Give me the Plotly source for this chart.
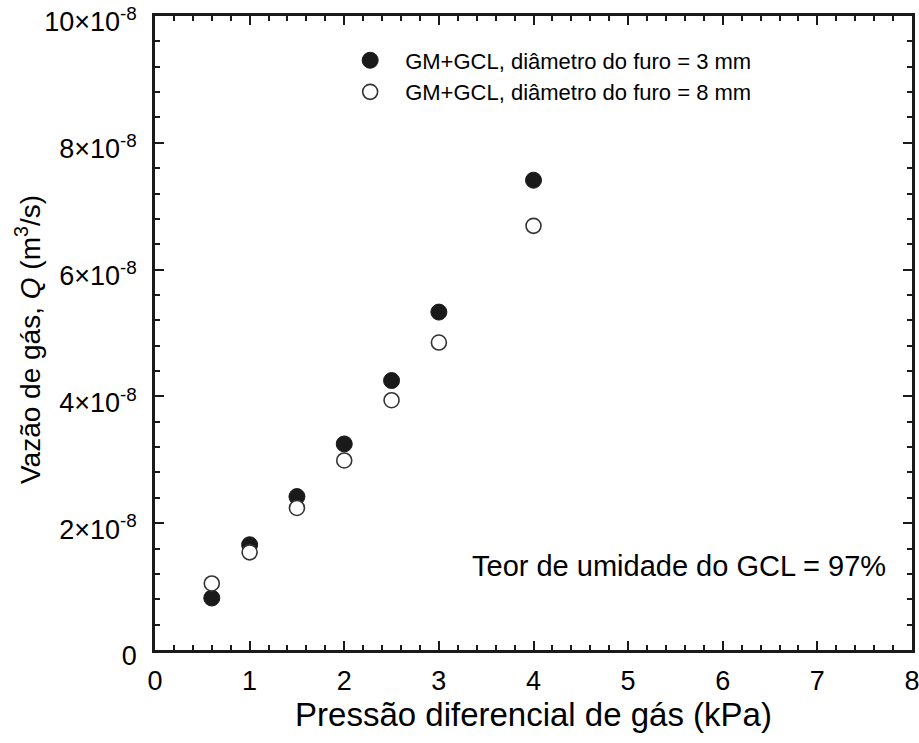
import plotly.graph_objects as go

# pressão diferencial (kPa)
pressure = [0.6, 1.0, 1.5, 2.0, 2.5, 3.0, 4.0]
# vazão de gás, em unidades de 1e-8 m3/s
q_3mm = [0.82, 1.66, 2.42, 3.25, 4.25, 5.33, 7.41]
q_8mm = [1.05, 1.54, 2.24, 2.99, 3.94, 4.85, 6.69]

y_tickvals = [0, 2, 4, 6, 8, 10]
y_ticktext = ["0", "2×10<sup>-8</sup>", "4×10<sup>-8</sup>", "6×10<sup>-8</sup>",
              "8×10<sup>-8</sup>", "10×10<sup>-8</sup>"]
x_tickvals = [0, 1, 2, 3, 4, 5, 6, 7, 8]

font = "Arial, 'Liberation Sans', sans-serif"
ink = "#1a1a1a"

fig = go.Figure()
fig.add_trace(go.Scatter(x=pressure, y=q_3mm, mode="markers",
                         name="GM+GCL, diâmetro do furo = 3 mm",
                         marker=dict(size=16, color=ink, line=dict(color=ink, width=1))))
fig.add_trace(go.Scatter(x=pressure, y=q_8mm, mode="markers",
                         name="GM+GCL, diâmetro do furo = 8 mm",
                         marker=dict(size=15, color="white", line=dict(color="#333333", width=1.6))))

axis_common = dict(showline=True, linecolor=ink, linewidth=2.5, mirror="ticks",
                   ticks="inside", ticklen=9, tickwidth=2, tickcolor=ink,
                   showgrid=False, zeroline=False, automargin=False,
                   ticklabeloverflow="allow",
                   tickfont=dict(family=font, size=27, color="black"))

fig.update_xaxes(range=[0, 8], tickvals=x_tickvals, ticklabelstandoff=5,
                 minor=dict(dtick=0.2, ticks="inside", ticklen=5, tickwidth=1.5,
                            tickcolor=ink, showgrid=False),
                 title=dict(text="Pressão diferencial de gás (kPa)",
                            font=dict(family=font, size=33, color="black"), standoff=8),
                 **axis_common)
fig.update_yaxes(range=[0, 10], tickvals=y_tickvals, ticktext=y_ticktext,
                 ticklabelstandoff=10, ticklabelshift=6,
                 minor=dict(dtick=0.4, ticks="inside", ticklen=5, tickwidth=1.5,
                            tickcolor=ink, showgrid=False),
                 **axis_common)

# título do eixo y
fig.add_annotation(x=0, y=0.489, xref="paper", yref="paper", xshift=-127,
                   text="Vazão de gás, <i>Q</i> (m<sup>3</sup>/s)", textangle=-90,
                   showarrow=False, xanchor="center", yanchor="middle",
                   font=dict(family=font, size=28, color="black"))

fig.add_annotation(x=0.968, y=0.132, xref="paper", yref="paper",
                   text="Teor de umidade do GCL = 97%", showarrow=False,
                   xanchor="right", yanchor="middle",
                   font=dict(family=font, size=29, color="black"))

fig.update_layout(
    width=919, height=743,
    margin=dict(l=155, r=7, t=16, b=93),
    plot_bgcolor="white", paper_bgcolor="white",
    legend=dict(x=0.238, y=0.963, xanchor="left", yanchor="top",
                bgcolor="rgba(0,0,0,0)", font=dict(family=font, size=22, color="black"),
                tracegroupgap=0, itemwidth=60),
)

fig.write_html("out.html", config={"displayModeBar": False},
               post_script="document.body.style.margin='0';")
